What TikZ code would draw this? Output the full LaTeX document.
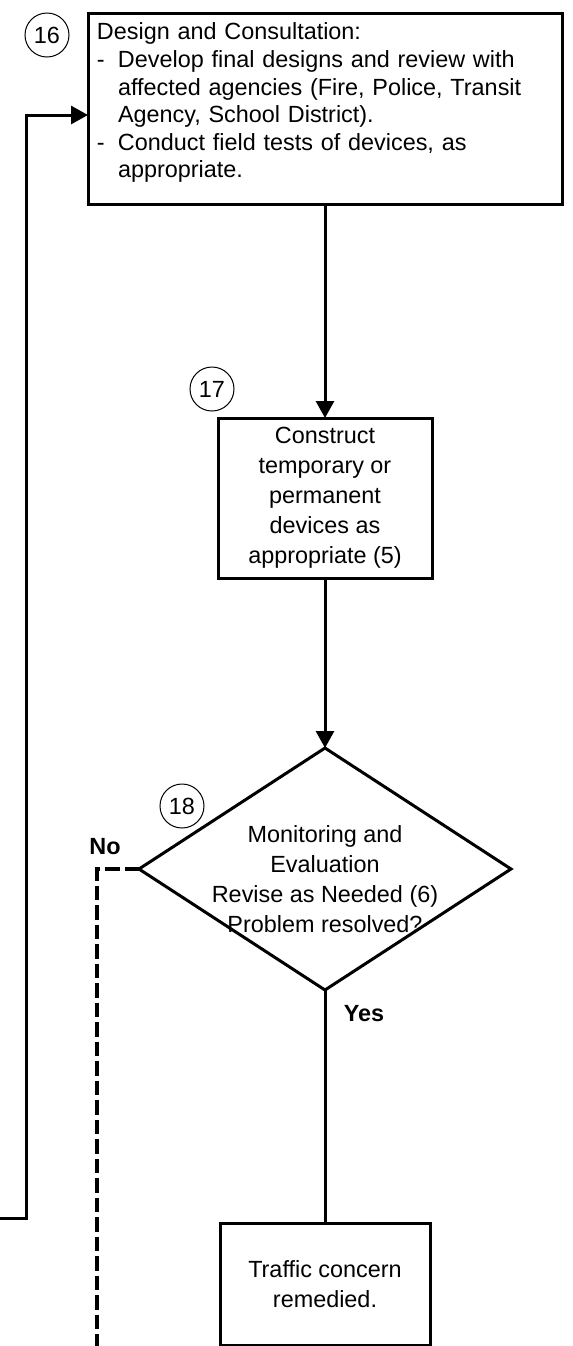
\documentclass[tikz,border=0pt]{standalone}
\usepackage{fontspec}
\setmainfont{Liberation Sans}
\usetikzlibrary{arrows.meta, positioning, shapes.geometric, calc}
\tikzset{%
	stepbox/.style={draw, rectangle, line width=1.5pt, align=center, inner sep=0pt, outer sep=0pt},
	decision/.style={draw, diamond, line width=1.5pt, inner sep=0pt, outer sep=0pt,%
		minimum width=186pt, minimum height=121pt},
	num/.style={draw, circle, line width=0.5pt, minimum size=22pt, inner sep=0pt},
	flow/.style={line width=1.5pt, -{Triangle[length=8.5pt, width=9pt]}},
	plainline/.style={line width=1.5pt},
	nolink/.style={line width=1.6pt, dash pattern=on 7.25pt off 2.5pt},
	answer/.style={font=\fontsize{11.7}{15}\selectfont\bfseries}
}

\begin{document}
\begin{tikzpicture}[x=0.5pt, y=-0.5pt, font=\fontsize{11.7}{15}\selectfont]
	\useasboundingbox (0,0) rectangle (573,1346);
	\node[stepbox, align=left, text width=228pt, inner xsep=4.5pt, minimum height=95.5pt,
		font=\fontsize{11.7}{13.8}\selectfont] (design) at (325,108.5)
		{Design and Consultation:\\
		\makebox[10.5pt][l]{-}Develop final designs and review with\\
		\hspace*{10.5pt}affected agencies (Fire, Police, Transit\\
		\hspace*{10.5pt}Agency, School District).\\
		\makebox[10.5pt][l]{-}Conduct field tests of devices, as\\
		\hspace*{10.5pt}appropriate.\rule[-8pt]{0pt}{0pt}};
	\node[num] (n16) at ($(design.north west)+(-41,22)$) {16};
	\node[stepbox, minimum width=107pt, minimum height=80pt, below=107pt of design] (build)
		{Construct\\temporary or\\permanent\\devices as\\appropriate (5)};
	\node[num] (n17) at ($(build.north west)+(-6,-29)$) {17};
	\node[decision, below=85pt of build] (check) {};
	\node[align=center] (checktext) at ($(check.center)+(0,10)$)
		{Monitoring and\\Evaluation\\Revise as Needed (6)\\Problem resolved?};
	\node[num] (n18) at ($(check.north)+(-143,58)$) {18};
	\node[stepbox, minimum width=105pt, minimum height=61pt, below=116.5pt of check] (done)
		{Traffic concern\\remedied.};
	\node[answer] (nolabel) at ($(check.west)+(-34,-22)$) {No};
	\node[answer] (yeslabel) at ($(check.south)+(39,24)$) {Yes};
	\coordinate (loopin) at (0,1218);
	\coordinate (looptop) at (26,115);
	\coordinate (noend) at (97,1346);
	\draw[flow] (design) -- (build);
	\draw[flow] (build) -- (check);
	\draw[plainline] (check) -- (done);
	\draw[nolink] (check.west) -| (noend);
	\draw[flow] (loopin) -| (looptop) -- (looptop -| design.west);
\end{tikzpicture}
\end{document}
